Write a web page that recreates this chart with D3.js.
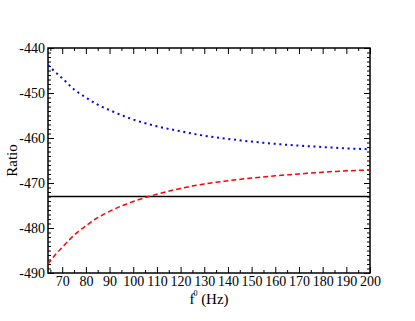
<!DOCTYPE html>
<html>
<head>
<meta charset="utf-8">
<title>Ratio vs f0</title>
<style>
  body { margin: 0; background: #fff; }
  svg text { font-family: "Liberation Serif", "DejaVu Serif", serif !important; fill: #000; }
</style>
</head>
<body>
<div id="chart"></div>
<script src="https://cdnjs.cloudflare.com/ajax/libs/d3/7.8.5/d3.min.js"></script>
<script>
(function(d3) {
  'use strict';

  // values
  var freq = [64, 67, 70, 75, 80, 85, 90, 100, 110, 120, 130, 140, 150, 160, 170, 180, 190, 200];
  var blueSeries = [-443.8, -445.3, -446.7, -449.2, -451.0, -452.6, -453.8, -455.9, -457.4, -458.5,
                    -459.5, -460.2, -460.8, -461.3, -461.7, -462.0, -462.3, -462.5];
  var redSeries = [-488.0, -486.0, -484.3, -481.6, -479.5, -477.7, -476.3, -474.1, -472.5, -471.2,
                   -470.2, -469.5, -468.9, -468.4, -468.0, -467.6, -467.3, -467.1];
  var refLevel = -473;
  var xTicks = [70, 80, 90, 100, 110, 120, 130, 140, 150, 160, 170, 180, 190, 200];
  var yTicks = [-490, -480, -470, -460, -450, -440];

  var width = 415, height = 321;
  var left = 48, right = 370, top = 48, bottom = 273;
  var serif = '"Liberation Serif", "DejaVu Serif", serif';

  var x = d3.scaleLinear().domain([64, 200]).range([left, right]);
  var y = d3.scaleLinear().domain([-490, -440]).range([bottom, top]);

  var svg = d3.select('#chart').append('svg')
      .attr('width', width)
      .attr('height', height);

  // minor ticks
  var xMinor = d3.range(65, 201, 5).filter(function(v) { return v % 10 !== 0; });
  var yMinor = d3.range(-489, -440, 1).filter(function(v) { return v % 10 !== 0; });
  var plain = function(d) { return String(d); };  // keep ascii hyphen

  function tickAxis(axis, g) {
    g.call(axis);
    g.attr('font-family', serif);
    g.select('.domain').remove();
    g.selectAll('.tick line').attr('stroke', '#000').attr('stroke-width', 1);
  }

  // bottom
  var gb = svg.append('g').attr('transform', 'translate(0,' + bottom + ')');
  tickAxis(d3.axisBottom(x).tickValues(xTicks).tickSizeInner(-6).tickPadding(3).tickFormat(plain), gb);
  gb.selectAll('text').attr('font-size', 14);
  var gb2 = svg.append('g').attr('transform', 'translate(0,' + bottom + ')');
  tickAxis(d3.axisBottom(x).tickValues(xMinor).tickSizeInner(-3).tickFormat(''), gb2);

  // top
  var gt = svg.append('g').attr('transform', 'translate(0,' + top + ')');
  tickAxis(d3.axisTop(x).tickValues(xTicks).tickSizeInner(-6).tickFormat(''), gt);
  var gt2 = svg.append('g').attr('transform', 'translate(0,' + top + ')');
  tickAxis(d3.axisTop(x).tickValues(xMinor).tickSizeInner(-3).tickFormat(''), gt2);

  // left
  var gl = svg.append('g').attr('transform', 'translate(' + left + ',0)');
  tickAxis(d3.axisLeft(y).tickValues(yTicks).tickSizeInner(-6).tickPadding(3).tickFormat(plain), gl);
  gl.selectAll('text').attr('font-size', 14);
  var gl2 = svg.append('g').attr('transform', 'translate(' + left + ',0)');
  tickAxis(d3.axisLeft(y).tickValues(yMinor).tickSizeInner(-3).tickFormat(''), gl2);

  // right
  var gr = svg.append('g').attr('transform', 'translate(' + right + ',0)');
  tickAxis(d3.axisRight(y).tickValues(yTicks).tickSizeInner(-6).tickFormat(''), gr);
  var gr2 = svg.append('g').attr('transform', 'translate(' + right + ',0)');
  tickAxis(d3.axisRight(y).tickValues(yMinor).tickSizeInner(-3).tickFormat(''), gr2);

  // frame
  svg.append('rect')
      .attr('x', left).attr('y', top)
      .attr('width', right - left).attr('height', bottom - top)
      .attr('fill', 'none').attr('stroke', '#000').attr('stroke-width', 1.5);

  svg.append('clipPath').attr('id', 'plotclip')
      .append('rect').attr('x', left).attr('y', top)
      .attr('width', right - left).attr('height', bottom - top);

  var line = d3.line()
      .x(function(d) { return x(d[0]); })
      .y(function(d) { return y(d[1]); })
      .curve(d3.curveMonotoneX);

  var plot = svg.append('g').attr('clip-path', 'url(#plotclip)');

  plot.append('path')
      .attr('d', line([[64, refLevel], [200, refLevel]]))
      .attr('fill', 'none').attr('stroke', '#000').attr('stroke-width', 1.5);

  plot.append('path')
      .attr('d', line(d3.zip(freq, blueSeries)))
      .attr('fill', 'none').attr('stroke', '#0000ff').attr('stroke-width', 2)
      .attr('stroke-dasharray', '2,3.7');

  plot.append('path')
      .attr('d', line(d3.zip(freq, redSeries)))
      .attr('fill', 'none').attr('stroke', '#ff0000').attr('stroke-width', 1.5)
      .attr('stroke-dasharray', '5,3');

  // axis titles
  svg.append('text')
      .attr('transform', 'translate(17,' + ((top + bottom) / 2) + ') rotate(-90)')
      .attr('text-anchor', 'middle')
      .attr('font-family', serif)
      .attr('font-size', 15)
      .text('Ratio');

  var xt = svg.append('text')
      .attr('x', (left + right) / 2)
      .attr('y', 304)
      .attr('text-anchor', 'middle')
      .attr('font-family', serif)
      .attr('font-size', 15);
  xt.append('tspan').text('f');
  xt.append('tspan').attr('font-size', 8).attr('dy', -8).attr('dx', -1).text('0');
  xt.append('tspan').attr('dy', 8).text(' (Hz)');

})(window.d3);
</script>
</body>
</html>
